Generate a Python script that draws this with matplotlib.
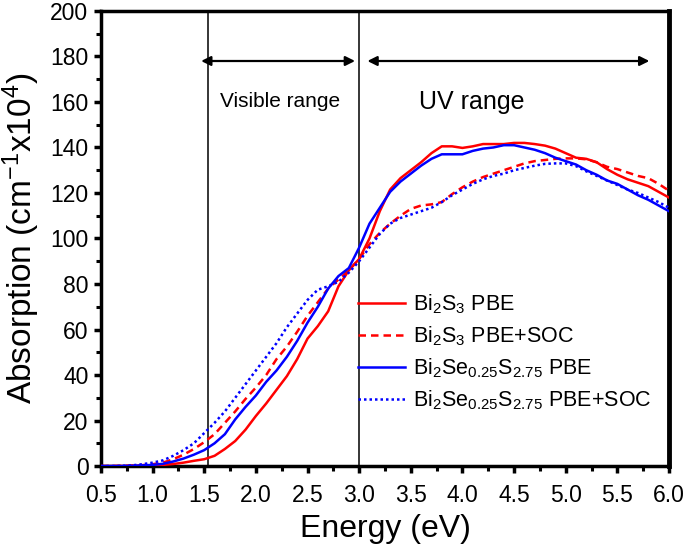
import numpy as np
import matplotlib
matplotlib.use("Agg")
import matplotlib.pyplot as plt
from matplotlib.ticker import MultipleLocator

plt.rcParams['font.family'] = ['Liberation Sans', 'DejaVu Sans']
plt.rcParams['mathtext.fontset'] = 'custom'
plt.rcParams['mathtext.rm'] = 'Liberation Sans'
plt.rcParams['mathtext.it'] = 'Liberation Sans'
plt.rcParams['mathtext.bf'] = 'Liberation Sans:bold'
plt.rcParams['mathtext.default'] = 'regular'

energy = np.round(np.arange(0.5, 6.0001, 0.1), 2)

bi2s3_pbe = [0, 0, 0, 0.1, 0.2, 0.3, 0.5, 0.9, 1.5, 2.3,
             3.0, 4.5, 7.5, 11, 16, 22, 27.5, 33.5, 39.5, 47,
             56, 61.5, 68, 79, 86, 91, 100, 112, 121.5, 126.5,
             130, 133.5, 137.5, 140.5, 140.5, 139.8, 140.5, 141.5, 141.5, 141.5,
             142, 142, 141.5, 140.8, 139.5, 137.5, 135.5, 135, 133.5, 130.5,
             128, 126, 124.5, 123, 120.5, 118]

bi2s3_soc = [0, 0, 0.1, 0.2, 0.4, 0.8, 1.5, 3, 5, 7.5,
             10.5, 14, 19, 24, 29.5, 34.5, 40, 47, 52.5, 59,
             66, 72, 78, 82, 86, 91, 97.5, 102.5, 106.5, 110,
             113, 114.5, 115, 116, 119.5, 122.5, 125, 127, 128.5, 130,
             131.5, 133, 134, 134.5, 135, 135.2, 135.2, 134.8, 133.5, 131.5,
             130.5, 129, 127.5, 126.5, 124, 121]

bise_pbe = [0, 0, 0, 0.1, 0.3, 0.5, 1, 2, 3.3, 5,
            7, 10, 14, 20.5, 26, 31, 37, 42, 48, 55,
            63, 70, 78, 83.5, 87, 96, 106.5, 113.5, 120.5, 125,
            128.5, 132, 135, 137, 137, 137, 138.5, 139.5, 140, 141,
            141, 140, 139, 137.5, 135.5, 134, 132.5, 130, 128, 125.5,
            124, 121.5, 119, 117, 114.5, 112]

bise_soc = [0, 0, 0.1, 0.3, 0.8, 1.5, 2.5, 4.5, 7, 10,
            14.5, 19, 24, 30, 36, 42, 48, 54, 61, 67,
            73, 77.5, 79, 81, 85, 90, 96, 102, 106.5, 109,
            110.5, 112, 113.5, 116, 119, 121.5, 124, 126, 127.5, 128.5,
            130, 131, 132, 132.8, 133, 133, 131.8, 129.5, 127.5, 125.5,
            123.5, 121.5, 120, 118, 116, 113.5]

labels = [r'Bi$_2$S$_3$ PBE', r'Bi$_2$S$_3$ PBE+SOC',
          r'Bi$_2$Se$_{0.25}$S$_{2.75}$ PBE', r'Bi$_2$Se$_{0.25}$S$_{2.75}$ PBE+SOC']
xticks = [0.5, 1.0, 1.5, 2.0, 2.5, 3.0, 3.5, 4.0, 4.5, 5.0, 5.5, 6.0]
yticks = [0, 20, 40, 60, 80, 100, 120, 140, 160, 180, 200]
vlines = [1.54, 3.0]

fig = plt.figure(figsize=(6.85, 5.47), dpi=100)
ax = fig.add_axes([0.1474, 0.148, 0.8292, 0.832])

red = '#ff0000'
blue = '#0000ff'
ax.plot(energy, bi2s3_pbe, color=red, lw=1.8, ls='-', label=labels[0], zorder=3)
ax.plot(energy, bi2s3_soc, color=red, lw=1.8, ls=(0, (3, 2)), label=labels[1], zorder=3)
ax.plot(energy, bise_pbe, color=blue, lw=1.8, ls='-', label=labels[2], zorder=3)
ax.plot(energy, bise_soc, color=blue, lw=1.8, ls=(0, (1, 1.2)), label=labels[3], zorder=3)

for v in vlines:
    ax.axvline(v, color='black', lw=1.1, zorder=2)

ax.annotate('', xy=(1.47, 178), xytext=(2.96, 178),
            arrowprops=dict(arrowstyle='<|-|>', color='black', lw=1.6,
                            mutation_scale=14, shrinkA=0, shrinkB=0))
ax.annotate('', xy=(3.08, 178), xytext=(5.81, 178),
            arrowprops=dict(arrowstyle='<|-|>', color='black', lw=1.6,
                            mutation_scale=14, shrinkA=0, shrinkB=0))
ax.text(2.23, 160.0, 'Visible range', fontsize=15, ha='center', va='center')
ax.text(4.09, 160.0, 'UV range', fontsize=18, ha='center', va='center')

ax.set_xlim(0.5, 6.0)
ax.set_ylim(0, 200)
ax.set_xticks(xticks)
ax.set_xticklabels([f'{t:.1f}' for t in xticks])
ax.set_yticks(yticks)
ax.set_yticklabels([str(t) for t in yticks])
ax.xaxis.set_minor_locator(MultipleLocator(0.25))
ax.yaxis.set_minor_locator(MultipleLocator(10))
ax.tick_params(which='major', direction='out', length=5, width=2.5, labelsize=16.5,
               top=False, right=False)
ax.tick_params(axis='x', which='major', pad=8)
ax.tick_params(axis='y', which='major', pad=4)
ax.tick_params(which='minor', direction='out', length=3.5, width=2.2, top=False, right=False)
for s in ['left', 'bottom', 'top']:
    ax.spines[s].set_linewidth(2.5)
ax.spines['right'].set_linewidth(3.5)

ax.set_xlabel('Energy (eV)', fontsize=23, labelpad=5)
ax.set_ylabel(r'Absorption (cm$^{-1}$x10$^{4}$)', fontsize=24, labelpad=6)

leg = ax.legend(loc='upper left', bbox_to_anchor=(0.452, 0.382), frameon=False,
                fontsize=15.5, handlelength=2.2, handletextpad=0.35,
                labelspacing=0.4, borderpad=0, borderaxespad=0)

fig.savefig('out.png', dpi=100)
